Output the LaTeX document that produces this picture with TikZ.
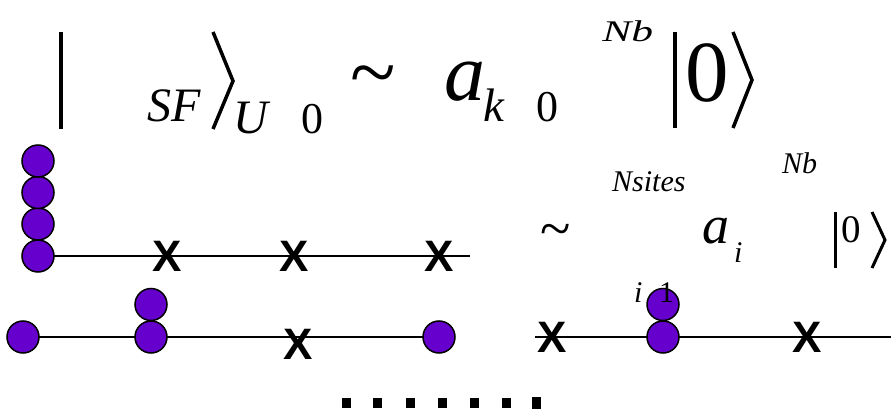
\documentclass[tikz,border=0pt]{standalone}
\usepackage{fontspec}
\setmainfont{Liberation Serif}
\newfontfamily\xfont{Liberation Sans}
\definecolor{ballpurple}{RGB}{102,0,204}
\newcommand{\fsz}[1]{\fontsize{#1}{#1}\selectfont}
\begin{document}
\begin{tikzpicture}[x=1pt,y=-1pt,
  ball/.style={circle,draw=black,fill=ballpurple,line width=1.5pt,minimum size=32pt,inner sep=0pt},
  xmark/.style={inner sep=0pt,font=\xfont\bfseries\fsz{44}},
  txt/.style={inner sep=0pt,anchor=base west},
  site/.style={line width=2pt},
  delim/.style={line width=4pt,line cap=butt},
  dotsq/.style={fill=black}]
\useasboundingbox (0,0) rectangle (891,411);

% ---------- top equation ----------
\coordinate (bt1) at (61,32);  \coordinate (bb1) at (61,129);
\draw[delim] (bt1) -- (bb1);
\node[txt,font=\itshape\fsz{48}] (sf) at (147,122) {SF};
\coordinate (ka1) at (213,32); \coordinate (kb1) at (233,81); \coordinate (kc1) at (213,129);
\draw[delim,line width=3.5pt,line join=miter] (ka1) -- (kb1) -- (kc1);
\node[txt,font=\itshape\fsz{48}] (u) at (233,134) {U};
\node[txt,font=\fsz{44}] (zu) at (301,134) {0};
\node[txt,font=\fsz{84}] (til1) at (350,101) {\textasciitilde};
\node[txt,font=\itshape\fsz{82}] (ak) at (444,101) {a};
\node[txt,font=\itshape\fsz{47}] (k) at (483,122) {k};
\node[txt,font=\fsz{44}] (zk) at (536,122) {0};
\node[txt,font=\itshape\fsz{30},xscale=1.45] (nb1) at (602,42) {Nb};
\coordinate (bt2) at (675,32);  \coordinate (bb2) at (675,128);
\draw[delim] (bt2) -- (bb2);
\node[txt,font=\fsz{87}] (z0) at (685,102) {0};
\coordinate (ka2) at (733,32); \coordinate (kb2) at (752,80); \coordinate (kc2) at (733,128);
\draw[delim,line width=3.5pt,line join=miter] (ka2) -- (kb2) -- (kc2);

% ---------- second row: formula ----------
\node[txt,font=\fsz{56}] (til2) at (540,248) {\textasciitilde};
\node[txt,font=\itshape\fsz{30}] (ns) at (612,192) {Nsites};
\node[txt,font=\itshape\fsz{54}] (ai) at (702,244) {a};
\node[txt,font=\itshape\fsz{30}] (ii) at (734,263) {i};
\node[txt,font=\itshape\fsz{30}] (nb2) at (782,174) {Nb};
\coordinate (bt3) at (835,212); \coordinate (bb3) at (835,268);
\draw[line width=3pt] (bt3) -- (bb3);
\node[txt,font=\fsz{39}] (z2) at (841,243) {0};
\coordinate (ka3) at (872,212); \coordinate (kb3) at (885,240); \coordinate (kc3) at (872,268);
\draw[line width=3pt,line join=miter] (ka3) -- (kb3) -- (kc3);

% ---------- second row: lattice ----------
\coordinate (r2start) at (38,256);
\coordinate (r2end) at (470,256);
\draw[site] (r2start) -- (r2end);
\node[ball] (a4) at (38,256) {};
\node[ball] (a3) at (38,224) {};
\node[ball] (a2) at (38,192.5) {};
\node[ball] (a1) at (38,161) {};
\node[xmark] (x21) at (167,256) {X};
\node[xmark] (x22) at (294,256) {X};
\node[xmark] (x23) at (439,256) {X};

% ---------- third row: lattice ----------
\coordinate (r3a) at (23,337);
\coordinate (r3b) at (439,337);
\draw[site] (r3a) -- (r3b);
\coordinate (r3c) at (535,337);
\coordinate (r3d) at (891,337);
\draw[site] (r3c) -- (r3d);
\node[ball] (c1) at (23,337) {};
\node[ball] (c2) at (151,337) {};
\node[ball] (c2t) at (151,304.5) {};
\node[xmark] (x31) at (298,344) {X};
\node[ball] (c3) at (439,337) {};
\node[xmark] (x32) at (552,337) {X};
\node[ball] (d1) at (663,337) {};
\node[ball] (d1t) at (663,304.5) {};
\node[xmark] (x33) at (807,337) {X};
\node[txt,font=\itshape\fsz{30}] (il) at (634,303) {i};
\node[txt,font=\fsz{30}] (one) at (659,303) {1};

% ---------- dots ----------
\foreach \dx in {342,373,406,438,470,502} {
  \fill[dotsq] (\dx,398) rectangle ++(9,10);
}
\fill[dotsq] (532,397) rectangle ++(9,12);
\end{tikzpicture}
\end{document}
